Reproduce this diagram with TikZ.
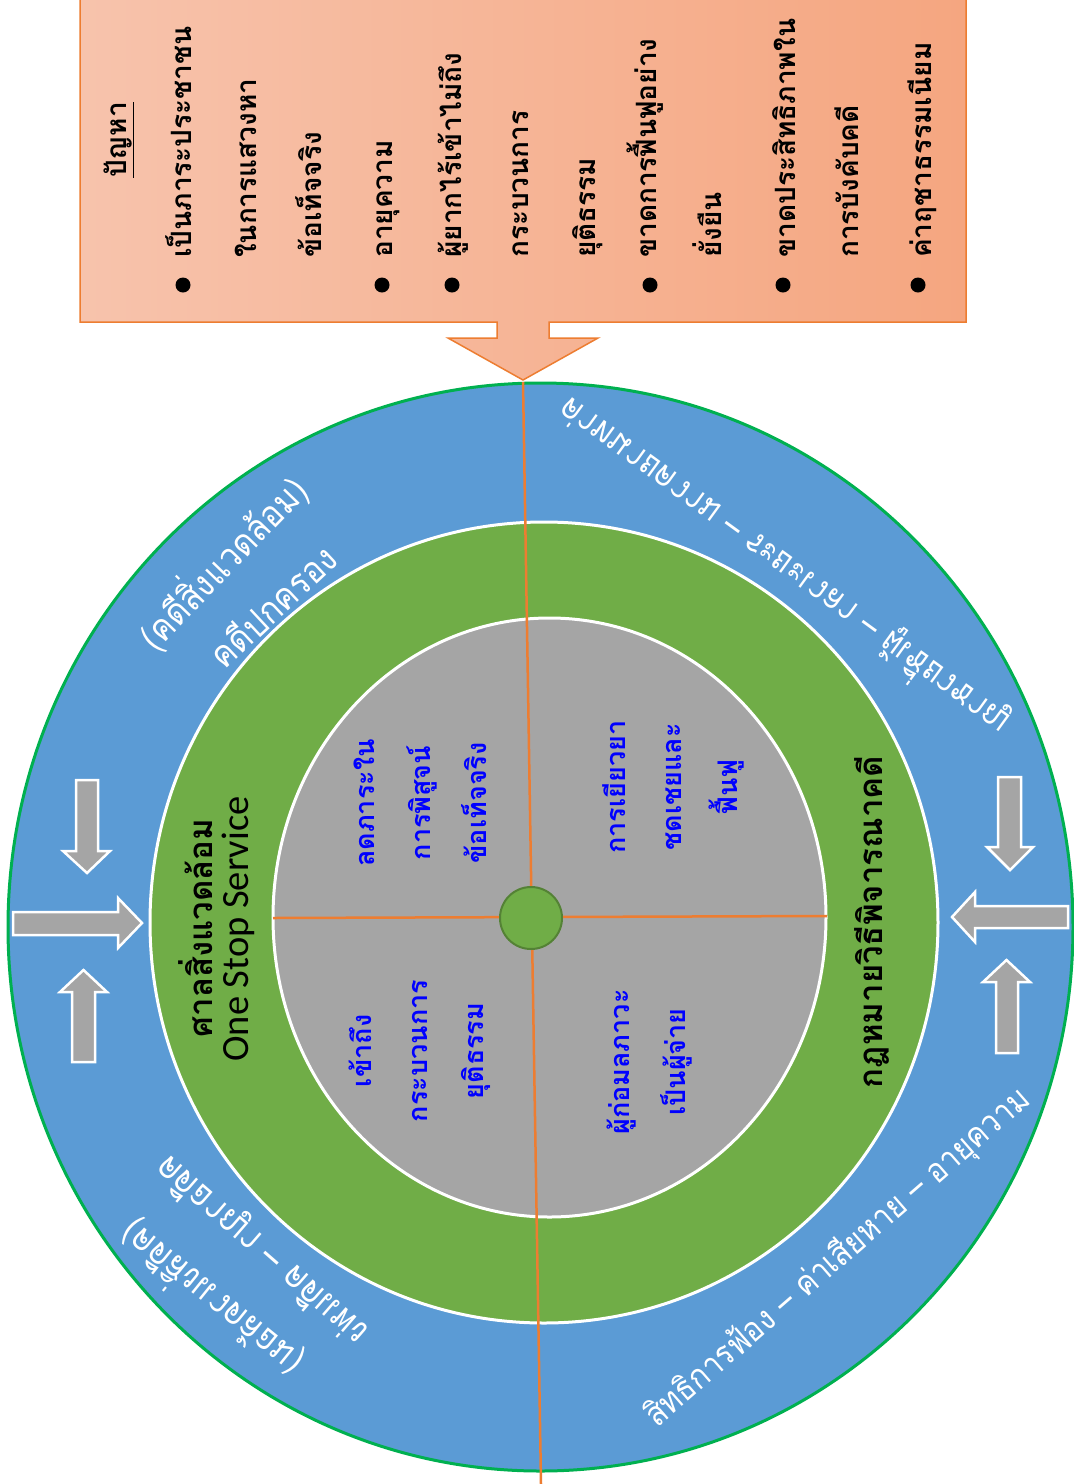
\documentclass[tikz,border=0pt]{standalone}
\usepackage{fontspec}
\newfontfamily\thaifont[Script=Thai]{Loma}
\newfontfamily\thaicond[Script=Thai,FakeStretch=0.88]{Loma}
\newfontfamily\ossfont{Carlito}
\usetikzlibrary{calc}
\definecolor{ringblue}{RGB}{91,155,213}
\definecolor{ringgreen}{RGB}{112,173,71}
\definecolor{ringgray}{RGB}{165,165,165}
\definecolor{rimgreen}{RGB}{0,176,80}
\definecolor{lineorange}{RGB}{237,125,49}
\definecolor{hubedge}{RGB}{84,130,53}
\definecolor{boxleft}{RGB}{247,195,172}
\definecolor{boxright}{RGB}{245,166,128}
\definecolor{quadblue}{RGB}{0,0,255}
\newcommand\curvefont{\thaicond\fontsize{37}{40}\selectfont}
\newcommand\curvefontmid{\thaicond\fontsize{35}{38}\selectfont}
\newcommand\curvefontsmall{\thaicond\fontsize{34}{38}\selectfont}
\begin{document}
\begin{tikzpicture}[x=1pt,y=-1pt,
  boxtxt/.style={font=\thaifont\bfseries\fontsize{28}{34}\selectfont, rotate=90, anchor=base west, inner sep=0pt},
  bulletdot/.style={circle, fill=black, minimum size=15pt, inner sep=0pt},
  quadtxt/.style={font=\thaifont\bfseries\fontsize{27}{56}\selectfont, text=quadblue, rotate=90, align=center, inner sep=0pt},
  ringtxt/.style={font=\thaifont\bfseries\fontsize{33}{40}\selectfont, rotate=90, inner sep=0pt},
  blockarrow/.style={fill=ringgray, draw=white, line width=2.5pt, line join=miter},
  divider/.style={draw=lineorange, line width=2.5pt},
  arctxt/.style={font=\curvefont, text=white, inner sep=0pt}
]
\useasboundingbox (0,0) rectangle (1074,1484);
\fill[white] (0,0) rectangle (1074,1484);

% problem box with down arrow
\path[left color=boxleft, right color=boxright, draw=lineorange, line width=1.5pt]
  (80,-3) -- (80,322) -- (497,322) -- (497,338) -- (448,338) -- (523,380) -- (598,338)
  -- (549,338) -- (549,322) -- (966,322) -- (966,-3) -- cycle;

% rings
\coordinate (oc) at (540.5,927);
\path[fill=ringblue, draw=rimgreen, line width=3pt] (oc) ellipse [x radius=532.5, y radius=544];
\path[fill=ringgreen, draw=white, line width=3pt] (544,922.5) ellipse [x radius=394, y radius=400.5];
\path[fill=ringgray, draw=white, line width=3pt] (549.5,917.5) ellipse [x radius=276.5, y radius=299.5];

% dividers and hub
\coordinate (vtop) at (523,382);
\coordinate (vbot) at (541,1484);
\coordinate (hl) at (273,918);
\coordinate (hr) at (827,916);
\draw[divider] (vtop) -- (vbot);
\draw[divider] (hl) -- (hr);
\node[circle, fill=ringgreen, draw=hubedge, line width=2pt, minimum size=62pt, inner sep=0pt] (hub) at (531,918) {};

% block arrows
\draw[blockarrow] (76,780) -- (98,780) -- (98,851) -- (110,851) -- (87,873) -- (63,851) -- (76,851) -- cycle;
\draw[blockarrow] (13,912) -- (118,912) -- (118,898) -- (142,923) -- (118,948) -- (118,935) -- (13,935) -- cycle;
\draw[blockarrow] (72,1062) -- (72,992) -- (60,992) -- (83.5,970) -- (107,992) -- (95,992) -- (95,1062) -- cycle;
\draw[blockarrow] (998,777) -- (1021,777) -- (1021,847) -- (1033,847) -- (1010,870) -- (987,847) -- (998,847) -- cycle;
\draw[blockarrow] (1068,906) -- (975,906) -- (975,892) -- (952,917) -- (975,942) -- (975,928) -- (1068,928) -- cycle;
\draw[blockarrow] (996,1053) -- (996,982) -- (983,982) -- (1006.5,960) -- (1030,982) -- (1018,982) -- (1018,1053) -- cycle;

% box text
\node[boxtxt] (head) at (126,178) {\underline{ปัญหา}};
\node[boxtxt] (p1) at (191,258) {เป็นภาระประชาชน};
\node[boxtxt] (p2) at (256,258) {ในการแสวงหา};
\node[boxtxt] (p3) at (321,258) {ข้อเท็จจริง};
\node[boxtxt] (p4) at (392,258) {อายุความ};
\node[boxtxt] (p5) at (461,258) {ผู้ยากไร้เข้าไม่ถึง};
\node[boxtxt] (p6) at (528,258) {กระบวนการ};
\node[boxtxt] (p7) at (595,258) {ยุติธรรม};
\node[boxtxt] (p8) at (656,258) {ขาดการฟื้นฟูอย่าง};
\node[boxtxt] (p9) at (721,258) {ยั่งยืน};
\node[boxtxt] (p10) at (795,258) {ขาดประสิทธิภาพใน};
\node[boxtxt] (p11) at (858,258) {การบังคับคดี};
\node[boxtxt] (p12) at (931,258) {ค่าฤชาธรรมเนียม};
\node[bulletdot] (b1) at (183,285) {};
\node[bulletdot] (b2) at (382,285) {};
\node[bulletdot] (b3) at (452,285) {};
\node[bulletdot] (b4) at (650,285) {};
\node[bulletdot] (b5) at (783,285) {};
\node[bulletdot] (b6) at (918,285) {};

% inner quadrant texts
\node[quadtxt] (qtl) at (420,803) {ลดภาระใน\\การพิสูจน์\\ข้อเท็จจริง};
\node[quadtxt] (qbl) at (420,1051) {เข้าถึง\\กระบวนการ\\ยุติธรรม};
\node[quadtxt] (qtr) at (673,787) {การเยียวยา\\ชดเชยและ\\ฟื้นฟู};
\node[quadtxt] (qbr) at (650,1062) {ผู้ก่อมลภาวะ\\เป็นผู้จ่าย};

% green ring texts
\node[ringtxt] (court) at (196,928) {ศาลสิ่งแวดล้อม};
\node[font=\ossfont\fontsize{38.5}{42}\selectfont, rotate=90, inner sep=0pt] (oss) at (238,929) {One Stop Service};
\node[ringtxt] (law) at (872,922) {กฎหมายวิธีพิจารณาคดี};

% outer ring texts
\node[arctxt, rotate=46] (tlo) at (222,562) {(คดีสิ่งแวดล้อม)};
\node[arctxt, rotate=43] (tli) at (272,605) {คดีปกครอง};
\node[arctxt, rotate=-39, yscale=-1] (blo) at (210,1300) {(คดีสิ่งแวดล้อม)};
\node[arctxt, rotate=-41, yscale=-1] (bli) at (262,1250) {คดีอาญา – คดีแพ่ง};
\node[arctxt, font=\curvefontmid, rotate=-36, yscale=-1] (tro) at (783,567) {ค่าทนายความ – ระยะเวลา – ผู้เชี่ยวชาญ};
\node[arctxt, font=\curvefontsmall, rotate=41] (bro) at (838,1258) {สิทธิการฟ้อง – ค่าเสียหาย – อายุความ};
\end{tikzpicture}
\end{document}
